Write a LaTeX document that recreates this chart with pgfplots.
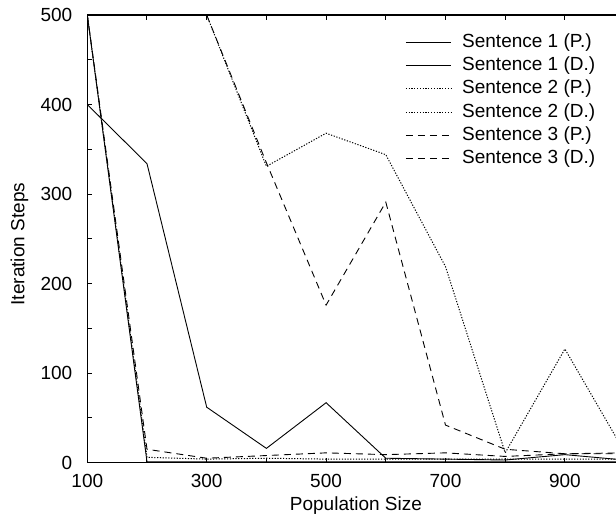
\documentclass[border=0pt]{standalone}
\usepackage{pgfplots}
\pgfplotsset{compat=1.18}
\usepackage{fontspec}
\setmainfont{Liberation Sans}
\begin{document}
\begin{tikzpicture}[font=\fontsize{9.5}{11.4}\selectfont]
\begin{axis}[
  scale only axis,
  width=268.65pt, height=223.85pt,
  xmin=100, xmax=1000, ymin=0, ymax=500,
  xtick={100,200,...,1000},
  xticklabels={100,,300,,500,,700,,900,},
  ytick={0,50,...,500},
  yticklabels={0,,100,,200,,300,,400,,500},
  tick align=inside,
  major tick length=2.5pt,
  tick style={black, line width=0.5pt},
  axis line style={black, line width=0.6pt},
  /pgf/number format/assume math mode=true,
  xticklabel style={yshift=-2pt},
  yticklabel style={xshift=-4pt},
  xlabel={Population Size},
  ylabel={Iteration Steps},
  every axis x label/.style={at={(axis description cs:0.5,0)}, anchor=base, yshift=-24pt},
  every axis y label/.style={at={(axis description cs:0,0.5)}, xshift=-33.9pt, yshift=-2.6pt, rotate=90, anchor=center},
  legend cell align=left,
  legend image code/.code={\draw[#1] (0pt,0pt) -- (22.5pt,0pt);},
  legend style={draw=none, fill=none, inner xsep=0pt, inner ysep=0pt,
    at={(axis description cs:0.5913,0.9665)}, anchor=north west,
    column sep=3.4pt,
    nodes={inner xsep=2pt, inner ysep=1.33pt, text height=7pt, text depth=2pt}},
  every axis plot/.append style={black, line width=0.45pt},
]
\addplot[solid] coordinates {(100,400) (200,334) (300,62) (400,16) (500,67) (600,5) (700,4) (800,3) (900,9) (1000,3)};
\addlegendentry{Sentence 1 (P.)}
\addplot[solid] coordinates {(100,500) (200,1) (300,1) (400,1) (500,1) (600,1) (700,1) (800,1) (900,1) (1000,1)};
\addlegendentry{Sentence 1 (D.)}
\addplot[line width=0.5pt, dash pattern=on 0.6pt off 0.8pt] coordinates {(100,500) (200,500) (300,500) (400,331) (500,368) (600,344) (700,219) (800,11) (900,127) (1000,12)};
\addlegendentry{Sentence 2 (P.)}
\addplot[line width=0.5pt, dash pattern=on 0.6pt off 0.8pt] coordinates {(100,500) (200,6) (300,4) (400,5) (500,4) (600,4) (700,4) (800,4) (900,4) (1000,4)};
\addlegendentry{Sentence 2 (D.)}
\addplot[dash pattern=on 3.5pt off 2.5pt] coordinates {(100,500) (200,500) (300,500) (400,335) (500,176) (600,291) (700,42) (800,15) (900,10) (1000,10)};
\addlegendentry{Sentence 3 (P.)}
\addplot[dash pattern=on 3.5pt off 2.5pt] coordinates {(100,500) (200,15) (300,5) (400,8) (500,11) (600,9) (700,11) (800,7) (900,10) (1000,11)};
\addlegendentry{Sentence 3 (D.)}
\end{axis}
\pgfresetboundingbox
\useasboundingbox (-43.65pt,-26.15pt) rectangle (264.35pt,231.35pt);
\end{tikzpicture}
\end{document}
